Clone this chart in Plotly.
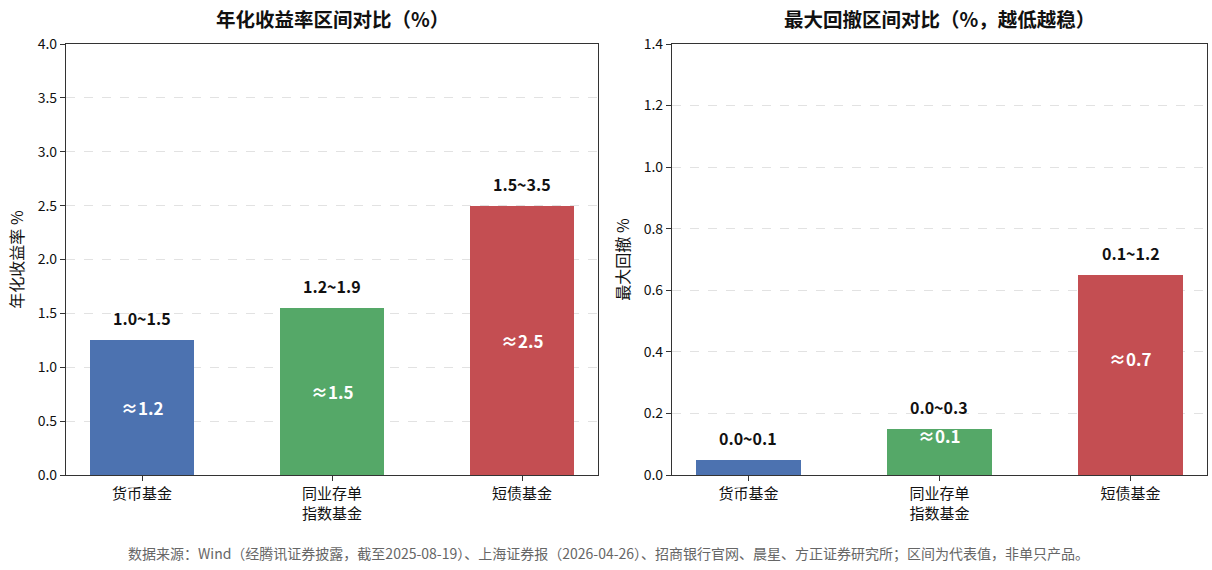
import plotly.graph_objects as go
from plotly.subplots import make_subplots

# data
categories = ["货币基金", "同业存单<br>指数基金", "短债基金"]
colors = ["#4C72B0", "#55A868", "#C44E52"]

ret_mid = [1.25, 1.55, 2.5]
ret_range = ["1.0~1.5", "1.2~1.9", "1.5~3.5"]
ret_inside = ["≈1.2", "≈1.5", "≈2.5"]

dd_mid = [0.05, 0.15, 0.65]
dd_range = ["0.0~0.1", "0.0~0.3", "0.1~1.2"]
dd_inside = ["", "≈0.1", "≈0.7"]

titles = ["年化收益率区间对比（%）", "最大回撤区间对比（%，越低越稳）"]
ytitles = ["年化收益率 %", "最大回撤 %"]
footer = ("数据来源：Wind（经腾讯证券披露，截至2025-08-19）、上海证券报（2026-04-26）、"
          "招商银行官网、晨星、方正证券研究所；区间为代表值，非单只产品。")

FONT = "Noto Sans CJK SC"

fig = make_subplots(rows=1, cols=2, horizontal_spacing=0.06)

panels = [
    (ret_mid, ret_range, ret_inside, [0, 4.0], 0.5, 0),
    (dd_mid, dd_range, dd_inside, [0, 1.4], 0.2, 16),
]

for i, (mid, rng, inside, yr, dt, shift) in enumerate(panels):
    col = i + 1
    xs = list(range(len(categories)))
    fig.add_trace(go.Bar(x=xs, y=mid, width=0.55, marker_color=colors,
                         marker_line_width=0, showlegend=False), row=1, col=col)
    xref = "x" if col == 1 else "x2"
    yref = "y" if col == 1 else "y2"
    for x, v, r, t in zip(xs, mid, rng, inside):
        fig.add_annotation(x=x, y=v, xref=xref, yref=yref, text="<b>%s</b>" % r,
                           showarrow=False, yshift=22,
                           font=dict(family=FONT, size=16, color="#111"))
        if t:
            fig.add_annotation(x=x, y=v / 2, xref=xref, yref=yref, text="<b>%s</b>" % t,
                               showarrow=False, yshift=shift,
                               font=dict(family=FONT, size=17, color="white"))
    fig.update_xaxes(tickvals=xs, ticktext=categories, range=[-0.4, 2.4],
                     showline=True, mirror=True, linecolor="#333", linewidth=1.2,
                     ticks="outside", ticklen=5, tickcolor="#333",
                     tickfont=dict(family=FONT, size=15, color="#111"),
                     showgrid=False, row=1, col=col)
    fig.update_yaxes(range=yr, dtick=dt, tickformat=".1f",
                     showline=True, mirror=True, linecolor="#333", linewidth=1.2,
                     ticks="outside", ticklen=5, tickcolor="#333",
                     tickfont=dict(family=FONT, size=14, color="#111"),
                     showgrid=True, gridcolor="#e2e2e2", griddash="dash", gridwidth=1,
                     zeroline=False,
                     title=dict(text=ytitles[i], font=dict(family=FONT, size=16, color="#111"),
                                standoff=10),
                     row=1, col=col)

fig.update_layout(xaxis=dict(domain=[0, 0.4663]), xaxis2=dict(domain=[0.5311, 1]))

for i, t in enumerate(titles):
    fig.add_annotation(x=[0.2332, 0.7655][i], y=1.0, xref="paper", yref="paper",
                       xanchor="center", yanchor="middle",
                       yshift=26, text="<b>%s</b>" % t, showarrow=False,
                       font=dict(family=FONT, size=19.5, color="#111"))

fig.add_annotation(x=0.5, y=0, xref="paper", yref="paper", xanchor="center",
                   yanchor="middle", yshift=-78, xshift=-28, text=footer, showarrow=False,
                   font=dict(family=FONT, size=14, color="#666"))

fig.update_layout(width=1212, height=570, margin=dict(l=66, r=5, t=44, b=95),
                  plot_bgcolor="white", paper_bgcolor="white",
                  font=dict(family=FONT), bargap=0)

# drop the default page margin so the figure sits at the window's corner
fig.write_html("out.html", config={"displayModeBar": False},
               post_script="document.body.style.margin='0';")
